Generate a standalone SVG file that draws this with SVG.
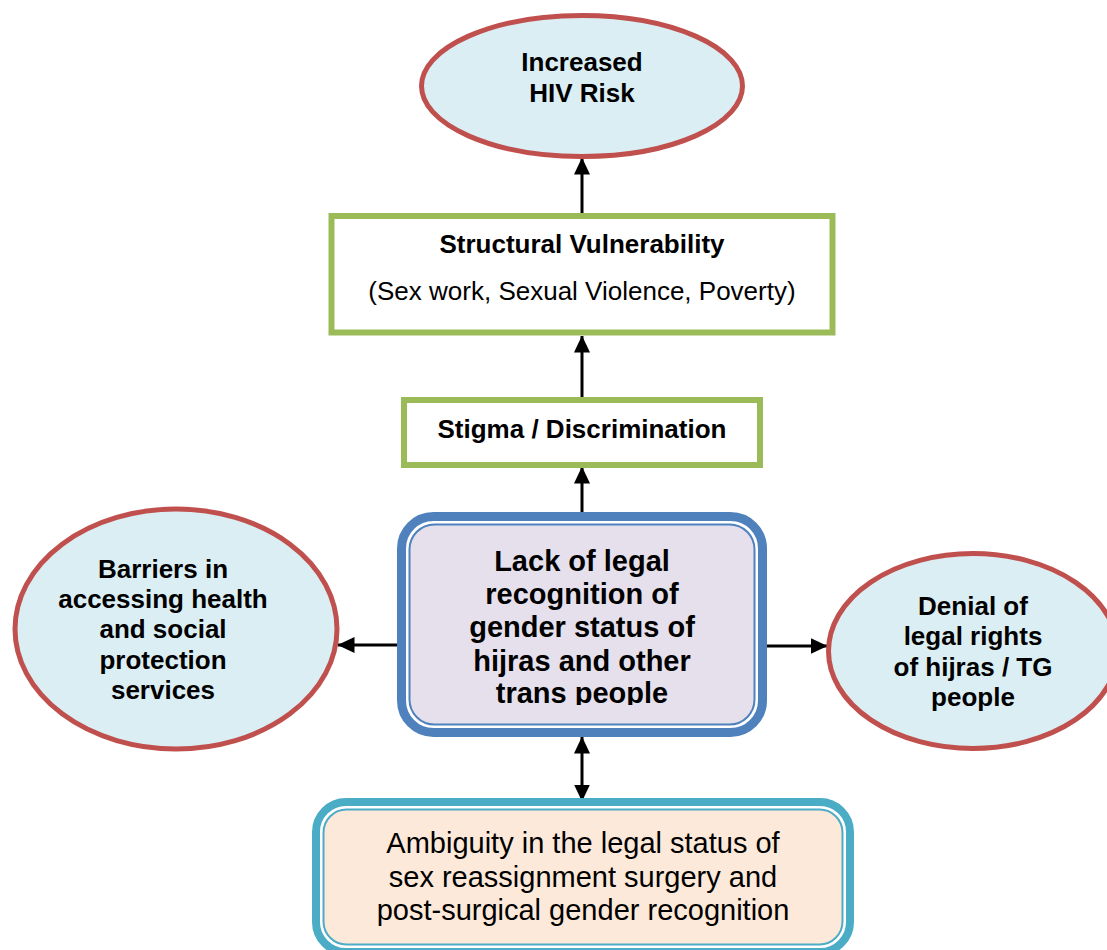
<svg xmlns="http://www.w3.org/2000/svg" width="1107" height="950" viewBox="0 0 1107 950">
  <style>
    .ell { fill: #dbeef4; stroke: #c0504d; stroke-width: 5; }
    .grn { fill: #ffffff; stroke: #9bbb59; stroke-width: 6; }
    .b { font-family: "Liberation Sans", Arial, sans-serif; font-weight: bold; fill: #000; text-anchor: middle; }
    .r { font-family: "Liberation Sans", Arial, sans-serif; fill: #000; text-anchor: middle; }
    .conn { stroke: #000; stroke-width: 3; fill: none; }
  </style>
  <defs>
    <marker id="ah" viewBox="0 0 17 16" markerWidth="17" markerHeight="16" refX="16.5" refY="8" orient="auto-start-reverse" markerUnits="userSpaceOnUse">
      <path d="M0,0 L17,8 L0,16 z" fill="#000"/>
    </marker>
    <clipPath id="centerClip">
      <rect x="405" y="520" width="355" height="185"/>
    </clipPath>
  </defs>
  <rect width="1107" height="950" fill="#ffffff"/>

  <g id="connectors">
    <line class="conn" x1="582" y1="213" x2="582" y2="158" marker-end="url(#ah)"/>
    <line class="conn" x1="582" y1="397" x2="582" y2="336" marker-end="url(#ah)"/>
    <line class="conn" x1="582" y1="512" x2="582" y2="467" marker-end="url(#ah)"/>
    <line class="conn" x1="398" y1="645" x2="338" y2="645" marker-end="url(#ah)"/>
    <line class="conn" x1="766" y1="646" x2="827" y2="646" marker-end="url(#ah)"/>
    <line class="conn" x1="582" y1="737" x2="582" y2="801" marker-start="url(#ah)" marker-end="url(#ah)"/>
  </g>

  <g id="node-hiv-risk">
    <ellipse class="ell" cx="582" cy="86" rx="160.5" ry="70.5"/>
    <text class="b" font-size="26" x="582" y="71">Increased</text>
    <text class="b" font-size="26" x="582" y="102">HIV Risk</text>
  </g>

  <g id="node-structural">
    <rect class="grn" x="331.5" y="216" width="501" height="116.5"/>
    <text class="b" font-size="26" x="582" y="253">Structural Vulnerability</text>
    <text class="r" font-size="26" x="582" y="300">(Sex work, Sexual Violence, Poverty)</text>
  </g>

  <g id="node-stigma">
    <rect class="grn" x="404" y="400" width="356" height="65"/>
    <text class="b" font-size="26" x="582" y="438">Stigma / Discrimination</text>
  </g>

  <g id="node-lack-legal">
    <rect x="401.5" y="516.5" width="361" height="216" rx="32" fill="#ffffff" stroke="#4f81bd" stroke-width="9"/>
    <rect x="409.5" y="524.5" width="345" height="200" rx="25" fill="#e5e0ec" stroke="#4f81bd" stroke-width="2"/>
    <g clip-path="url(#centerClip)">
      <text class="b" font-size="29" x="582" y="571">Lack of legal</text>
      <text class="b" font-size="29" x="582" y="604">recognition of</text>
      <text class="b" font-size="29" x="582" y="637">gender status of</text>
      <text class="b" font-size="29" x="582" y="671">hijras and other</text>
      <text class="b" font-size="29" x="582" y="703">trans people</text>
    </g>
  </g>

  <g id="node-barriers">
    <ellipse class="ell" cx="176" cy="629" rx="161" ry="120"/>
    <text class="b" font-size="26" x="163" y="578">Barriers in</text>
    <text class="b" font-size="26" x="163" y="608">accessing health</text>
    <text class="b" font-size="26" x="163" y="638">and social</text>
    <text class="b" font-size="26" x="163" y="669">protection</text>
    <text class="b" font-size="26" x="163" y="699">services</text>
  </g>

  <g id="node-denial">
    <ellipse class="ell" cx="973" cy="651" rx="144.5" ry="97.5"/>
    <text class="b" font-size="26" x="973" y="615">Denial of</text>
    <text class="b" font-size="26" x="973" y="645">legal rights</text>
    <text class="b" font-size="26" x="973" y="676">of hijras / TG</text>
    <text class="b" font-size="26" x="973" y="706">people</text>
  </g>

  <g id="node-ambiguity">
    <rect x="316" y="802" width="534" height="150" rx="30" fill="#ffffff" stroke="#4bacc6" stroke-width="8"/>
    <rect x="323.5" y="809.5" width="519" height="135" rx="23" fill="#fde9d9" stroke="#4bacc6" stroke-width="2"/>
    <text class="r" font-size="29" x="583" y="853">Ambiguity in the legal status of</text>
    <text class="r" font-size="29" x="583" y="887">sex reassignment surgery and</text>
    <text class="r" font-size="29" x="583" y="920">post-surgical gender recognition</text>
  </g>
</svg>
